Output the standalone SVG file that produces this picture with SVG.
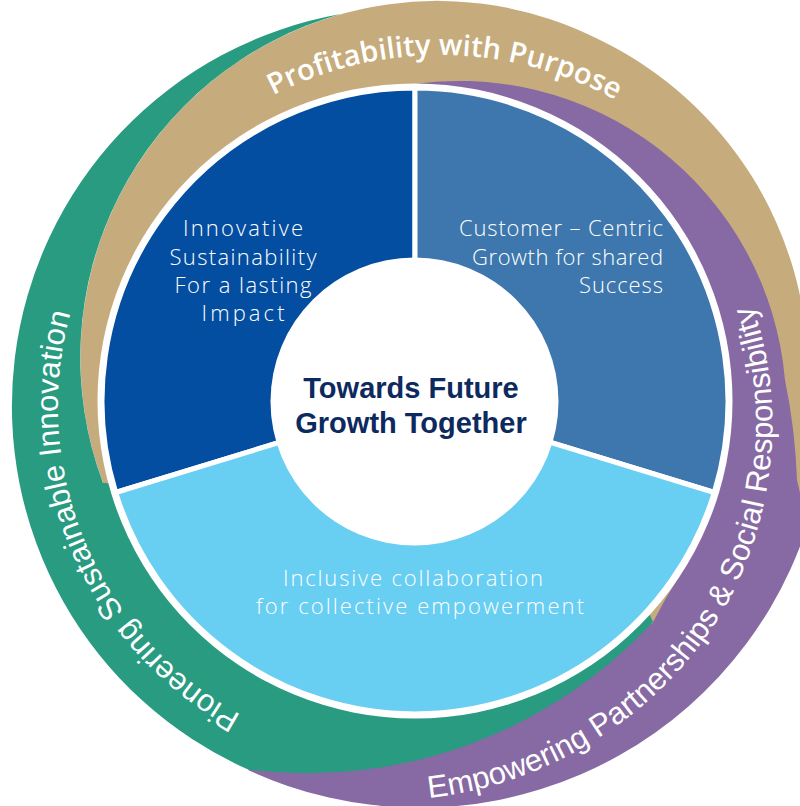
<svg xmlns="http://www.w3.org/2000/svg" width="800" height="806" viewBox="0 0 800 806">
<style>
.ring-label{fill:#fff;font-family:"Liberation Sans",Arial,sans-serif;font-size:31px}
.tan-label{fill:#fff;font-family:"Open Sans","Liberation Sans",sans-serif;font-weight:600;font-size:29px}
.seg-label{fill:#fff;font-family:"Open Sans",Lato,sans-serif;font-weight:300;font-size:22px}
.center-label{fill:#0C2A5E;font-family:"Liberation Sans",Arial,sans-serif;font-weight:700;font-size:29px;text-anchor:middle}
.seg{stroke:#fff;stroke-width:5;stroke-linejoin:round}
</style>
<defs>
<path id="tanArc" d="M123.9,237.5 A365,365 0 0 1 756.1,237.5"/>
<path id="greenArc" d="M410,758 A352,352 0 0 1 289.6,75.2"/>
<path id="purpleArc" d="M278.2,776.9 A398,398 0 0 0 428.9,797.8 A390,390 0 0 0 606.5,732.7 A378,378 0 0 0 720.5,614.9 A367,367 0 0 0 769.4,469.9 A357,357 0 0 0 762.6,339.7 A349,349 0 0 0 713.8,228.5 A341,341 0 0 0 632.3,142.1"/>
</defs>
<rect width="800" height="806" fill="#fff"/>
<g id="ring-profitability">
<path fill="#C6AC7C" d="M110,500 A357,357 0 0 1 600,40 A369,369 0 0 1 808,372 A400,400 0 0 1 800,520 L700,600 L640,640 L415,401 Z"/>
<text class="tan-label" text-anchor="middle"><textPath href="#tanArc" startOffset="387">Profitability with Purpose</textPath></text>
</g>
<g id="ring-empowering">
<path fill="#876AA4" d="M402,86 A327,327 0 0 1 785,380 A600,600 0 0 1 797,480 A420,420 0 0 1 806,530 A408,408 0 0 1 248,770 L300,700 L400,650 L652,624 L666,598 L676,582 L600,300 Z"/>
<text class="ring-label"><textPath href="#purpleArc" startOffset="153">Empowering Partnerships &amp; Social Responsibility</textPath></text>
</g>
<g id="ring-pioneering">
<path fill="#289B81" d="M340.9,14 A398,398 0 0 0 248.1,769.6 A472,472 0 0 0 653,622 L600,500 L103,483 A357,357 0 0 1 340.9,14 Z"/>
<text class="ring-label" text-anchor="middle"><textPath href="#greenArc" startOffset="411.6">Pioneering Sustainable Innovation</textPath></text>
</g>
<g id="pie-border">
<circle cx="415" cy="401" r="317.5" fill="#fff"/>
</g>
<g id="seg-innovative">
<path class="seg" fill="#044EA1" d="M415,401 L115.7,492.5 A313,313 0 0 1 415,88 Z"/>
<text class="seg-label" text-anchor="middle" x="243" y="236" textLength="120" lengthAdjust="spacing">Innovative</text>
<text class="seg-label" text-anchor="middle" x="243" y="265" textLength="147" lengthAdjust="spacing">Sustainability</text>
<text class="seg-label" text-anchor="middle" x="243" y="293" textLength="137" lengthAdjust="spacing">For a lasting</text>
<text class="seg-label" text-anchor="middle" x="243" y="321" textLength="83" lengthAdjust="spacing">Impact</text>
</g>
<g id="seg-customer">
<path class="seg" fill="#3D77AD" d="M415,401 L415,88 A313,313 0 0 1 714.3,492.5 Z"/>
<text class="seg-label" text-anchor="end" x="663" y="236" textLength="204" lengthAdjust="spacing">Customer – Centric</text>
<text class="seg-label" text-anchor="end" x="663" y="265" textLength="191" lengthAdjust="spacing">Growth for shared</text>
<text class="seg-label" text-anchor="end" x="663" y="293" textLength="84" lengthAdjust="spacing">Success</text>
</g>
<g id="seg-inclusive">
<path class="seg" fill="#68CEF2" d="M415,401 L714.3,492.5 A313,313 0 0 1 115.7,492.5 Z"/>
<text class="seg-label" text-anchor="middle" x="413" y="586" textLength="260" lengthAdjust="spacing">Inclusive collaboration</text>
<text class="seg-label" text-anchor="middle" x="420" y="614" textLength="328" lengthAdjust="spacing">for collective empowerment</text>
</g>
<g id="center">
<circle cx="414.5" cy="401.5" r="144" fill="#fff"/>
<text class="center-label" x="411" y="398">Towards Future</text>
<text class="center-label" x="411" y="433">Growth Together</text>
</g>
</svg>
